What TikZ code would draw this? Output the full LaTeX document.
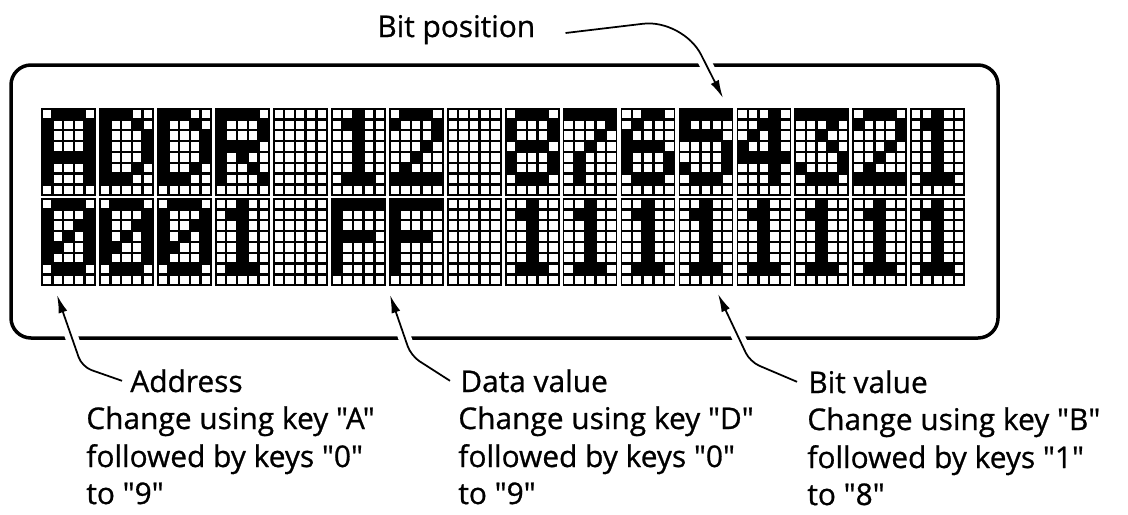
\documentclass[tikz,border=0pt]{standalone}
\usepackage{fontspec}
\setmainfont{Open Sans}[Ligatures=TeXOff, FakeBold=0.8]
\usetikzlibrary{arrows.meta}

% 5x7 dot glyphs: one number per dot row (msb = left column), 8th row is the cursor line
\newcommand\defglyph[2]{\expandafter\def\csname glyph#1\endcsname{#2}}
\defglyph{X}{0,0,0,0,0,0,0,0}
\defglyph{A}{14,17,17,17,31,17,17,0}
\defglyph{D}{28,18,17,17,17,18,28,0}
\defglyph{R}{30,17,17,30,20,18,17,0}
\defglyph{F}{31,16,16,30,16,16,16,0}
\defglyph{0}{14,17,19,21,25,17,14,0}
\defglyph{1}{4,12,4,4,4,4,14,0}
\defglyph{2}{14,17,1,2,4,8,31,0}
\defglyph{3}{31,2,4,2,1,17,14,0}
\defglyph{4}{2,6,10,18,31,2,2,0}
\defglyph{5}{31,16,30,1,1,17,14,0}
\defglyph{6}{6,8,16,30,17,17,14,0}
\defglyph{7}{31,1,2,4,8,8,8,0}
\defglyph{8}{14,17,17,14,17,17,14,0}

\tikzset{
  frame/.style={line width=0.07cm, rounded corners=0.4cm},
  note/.style={inner sep=0pt, anchor=base west, font=\fontsize{17}{20}\selectfont},
  pointer/.style={-{Latex[length=0.36cm,width=0.18cm]}, line width=0.035cm,
    preaction={draw=white, line width=0.26cm, arrows=-, shorten >=0.45cm, shorten <=0.2cm}}
}

\begin{document}
\begin{tikzpicture}[x=0.02cm, y=-0.02cm]
  \useasboundingbox (0,0) rectangle (1128,514);

  % Display frame
  \draw[frame] (11,65) rectangle (998,338);

  % Two lines of 16 dot matrix characters
  \foreach \txt [count=\r from 0] in {{A,D,D,R,X,1,2,X,8,7,6,5,4,3,2,1},{0,0,0,1,X,F,F,X,1,1,1,1,1,1,1,1}}{
    \foreach \g [count=\k from 0] in \txt {
      \pgfmathsetmacro\cx{41.7+\k*57.95}
      \pgfmathsetmacro\cy{108.5+\r*90}
      \fill (\cx-0.6,\cy-0.6) rectangle ++(54.8,88);
      \expandafter\let\expandafter\codes\csname glyph\g\endcsname
      \foreach \code [count=\j from 0] in \codes {
        \foreach \i in {0,...,4}{
          \pgfmathtruncatemacro\bit{mod(floor(\code/2^(4-\i)),2)}
          \ifnum\bit=0
            \fill[white] (\cx+\i*10.72+1.2,\cy+\j*10.85+1.2) rectangle ++(8.32,8.45);
          \fi
        }
      }
    }
  }

  % Labels
  \node[note] (bitpos) at (377,37) {Bit position};

  \node[note] (addr) at (130,392) {Address};
  \node[note] (addr1) at (86,429) {Change using key "A"};
  \node[note] (addr2) at (86,467) {followed by keys "0"};
  \node[note] (addr3) at (86,504) {to "9"};

  \node[note] (data) at (460,392) {Data value};
  \node[note] (data1) at (458,429) {Change using key "D"};
  \node[note] (data2) at (458,467) {followed by keys "0"};
  \node[note] (data3) at (458,504) {to "9"};

  \node[note] (bitval) at (808,393) {Bit value};
  \node[note] (bitval1) at (807,430) {Change using key "B"};
  \node[note] (bitval2) at (807,468) {followed by keys "1"};
  \node[note] (bitval3) at (807,505) {to "8"};

  % Pointers
  \coordinate (postip) at (723,98);
  \coordinate (addrtip) at (57,295);
  \coordinate (datatip) at (390,295);
  \coordinate (bittip) at (718,294);
  \coordinate (posfoot) at ([xshift=0.6cm,yshift=0.08cm]bitpos.base east);
  \coordinate (addrfoot) at ([xshift=-0.16cm]addr.west);
  \coordinate (datafoot) at ([xshift=-0.2cm]data.west);
  \coordinate (bitfoot) at ([xshift=-0.22cm]bitval.west);

  \draw[pointer, rounded corners=0.8cm] (posfoot) -- (683,19) -- (postip);
  \draw[pointer, rounded corners=0.2cm] (addrfoot) -- ([shift={(-40,-14)}]addrfoot) -- (addrtip);
  \draw[pointer, rounded corners=0.2cm] (datafoot) -- ([shift={(-39,-25)}]datafoot) -- (datatip);
  \draw[pointer, rounded corners=0.2cm] (bitfoot) -- ([shift={(-47,-20)}]bitfoot) -- (bittip);
\end{tikzpicture}
\end{document}
